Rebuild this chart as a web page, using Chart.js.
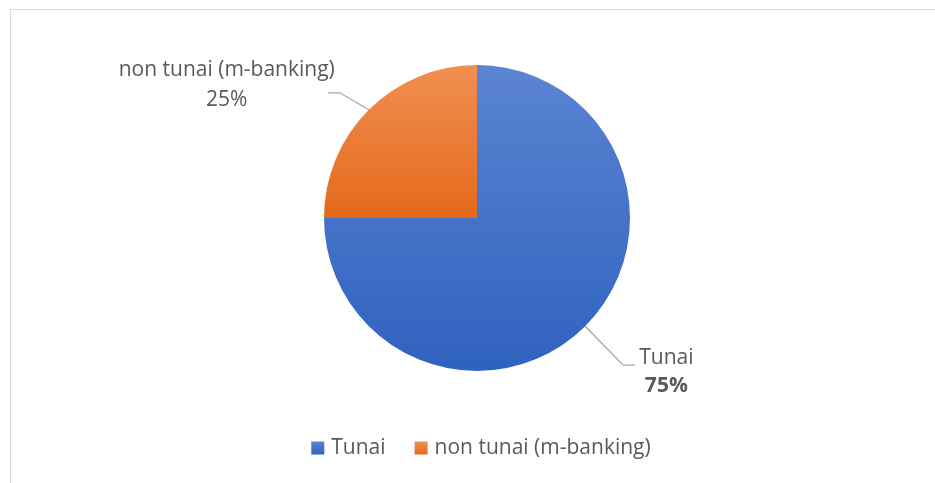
<!DOCTYPE html>
<html>
<head>
<meta charset="utf-8">
<script src="https://cdn.jsdelivr.net/npm/chart.js@4.4.1/dist/chart.umd.min.js"></script>
<style>
  html, body { margin: 0; padding: 0; background: #fff; }
  .wrap { position: relative; width: 935px; height: 483px; }
</style>
</head>
<body>
<div class="wrap"><canvas id="pieChart"></canvas></div>
<script>
const categories = ['Tunai', 'non tunai (m-banking)'];
const shares = [75, 25];
const percentLabels = ['75%', '25%'];

const FONT = '"Open Sans", sans-serif';
const FONT_SIZE = 21;
const TEXT_COLOR = '#595959';
const topColors = ['#5b84d2', '#f18f52'];
const bottomColors = ['#2f62bf', '#e4691a'];

// where each slice's label sits relative to the slice edge (leader elbow)
const labelOffsets = [{ dx: 38, dy: 39, side: 1 }, { dx: -29, dy: -17, side: -1 }];

function sliceFill(context) {
  const chart = context.chart;
  const area = chart.chartArea;
  const i = context.dataIndex;
  if (!area) return topColors[i];
  const bottom = i === 0 ? area.bottom : (area.top + area.bottom) / 2;
  const g = chart.ctx.createLinearGradient(0, area.top, 0, bottom);
  g.addColorStop(0, topColors[i]);
  g.addColorStop(1, bottomColors[i]);
  return g;
}

const decorations = {
  id: 'decorations',
  beforeDraw(chart) {
    const ctx = chart.ctx;
    ctx.save();
    ctx.strokeStyle = '#d9d9d9';
    ctx.lineWidth = 1;
    ctx.strokeRect(10.5, 9.5, 1000, 1000);
    ctx.restore();
  },
  afterDraw(chart) {
    const ctx = chart.ctx;
    const arcs = chart.getDatasetMeta(0).data;
    ctx.save();
    arcs.forEach((arc, i) => {
      const mid = (arc.startAngle + arc.endAngle) / 2;
      const ex = arc.x + Math.cos(mid) * arc.outerRadius;
      const ey = arc.y + Math.sin(mid) * arc.outerRadius;
      const off = labelOffsets[i];
      const bx = ex + off.dx, by = ey + off.dy;
      const tx = bx + off.side * 12;
      ctx.strokeStyle = '#a6a6a6';
      ctx.lineWidth = 1.3;
      ctx.beginPath();
      ctx.moveTo(ex, ey);
      ctx.lineTo(bx, by);
      ctx.lineTo(tx, by);
      ctx.stroke();

      ctx.fillStyle = TEXT_COLOR;
      ctx.textBaseline = 'middle';
      ctx.textAlign = 'center';
      ctx.font = FONT_SIZE + 'px ' + FONT;
      const name = categories[i];
      const w = ctx.measureText(name).width;
      let cx;
      if (off.side > 0) {
        cx = tx + 4 + w / 2;
        ctx.fillText(name, cx, by - 7);
        ctx.font = 'bold ' + FONT_SIZE + 'px ' + FONT;
        ctx.fillText(percentLabels[i], cx, by + 21);
      } else {
        cx = tx + 7 - w / 2;
        ctx.fillText(name, cx, by - 23);
        ctx.fillText(percentLabels[i], cx, by + 7);
      }
    });

    // legend
    ctx.font = FONT_SIZE + 'px ' + FONT;
    ctx.textBaseline = 'middle';
    const box = 13, gap = 7, spacing = 29;
    const widths = categories.map(c => ctx.measureText(c).width);
    const total = widths.reduce((s, w) => s + box + gap + w, 0) + spacing * (categories.length - 1);
    let x = 481 - total / 2;
    const y = 448;
    categories.forEach((c, i) => {
      const g = ctx.createLinearGradient(0, y - box / 2, 0, y + box / 2);
      g.addColorStop(0, topColors[i]);
      g.addColorStop(1, bottomColors[i]);
      ctx.fillStyle = g;
      ctx.fillRect(x, y - box / 2, box, box);
      x += box + gap;
      ctx.fillStyle = TEXT_COLOR;
      ctx.textAlign = 'left';
      ctx.fillText(c, x, y);
      x += widths[i] + spacing;
    });
    ctx.restore();
  }
};

new Chart(document.getElementById('pieChart'), {
  type: 'pie',
  data: {
    labels: categories,
    datasets: [{
      data: shares,
      backgroundColor: sliceFill,
      borderWidth: 0
    }]
  },
  options: {
    responsive: true,
    maintainAspectRatio: false,
    animation: false,
    layout: {
      padding: { top: 65, bottom: 112, left: 324, right: 305 }
    },
    plugins: {
      legend: { display: false },
      tooltip: { enabled: false }
    }
  },
  plugins: [decorations]
});
</script>
</body>
</html>
